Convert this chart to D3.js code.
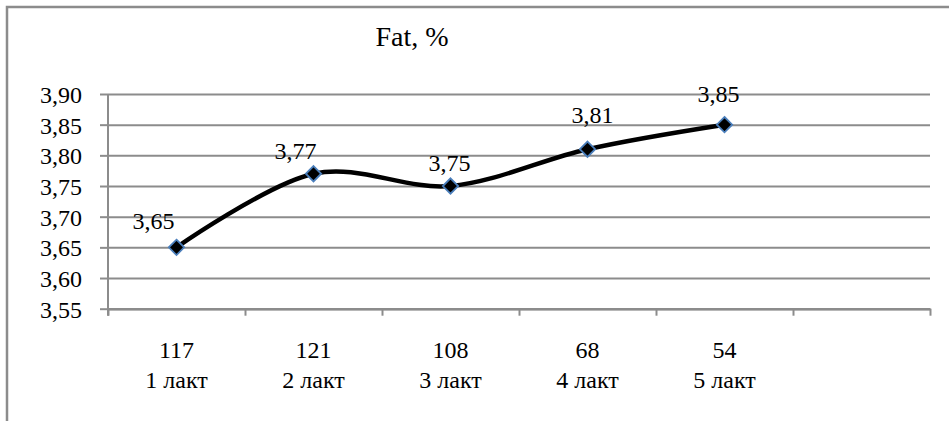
<!DOCTYPE html>
<html>
<head>
<meta charset="utf-8">
<script src="https://cdn.jsdelivr.net/npm/d3@7/dist/d3.min.js"></script>
<style>
  html, body { margin: 0; padding: 0; background: #fff; }
  svg { display: block; }
</style>
</head>
<body>
<svg id="chart" width="949" height="421"></svg>
<script>
// Lactation groups: herd size on the first line, lactation number on the second
const counts = ["117", "121", "108", "68", "54"];
const lactations = ["1 лакт", "2 лакт", "3 лакт", "4 лакт", "5 лакт"];
// Milk fat content, %
const fat = [3.65, 3.77, 3.75, 3.81, 3.85];
// Value axis ticks
const yTicks = [3.55, 3.60, 3.65, 3.70, 3.75, 3.80, 3.85, 3.90];
const title = "Fat, %";

(function draw() {
  const serif = "Liberation Serif, Times New Roman, serif";
  const svg = d3.select("#chart");
  const gridColor = "#8c8c8c";

  // Outer chart frame (runs off the right and bottom edges)
  svg.append("rect")
    .attr("x", 7).attr("y", 7)
    .attr("width", 1000).attr("height", 500)
    .attr("fill", "none")
    .attr("stroke", gridColor)
    .attr("stroke-width", 2.5);

  const plotL = 108, plotR = 930, plotT = 94, plotB = 308.7;
  const slots = counts.length + 1; // one empty category slot at the end

  const x = d3.scaleLinear().domain([0, slots]).range([plotL, plotR]);
  const y = d3.scaleLinear().domain([3.55, 3.90]).range([plotB, plotT]);
  const fmt = v => d3.format(".2f")(v).replace(".", ",");

  // Horizontal gridlines
  svg.append("g")
    .attr("transform", `translate(${plotL},0)`)
    .call(d3.axisLeft(y).tickValues(yTicks).tickSize(-(plotR - plotL)).tickFormat(""))
    .call(g => g.select(".domain").remove())
    .call(g => g.selectAll("line").attr("stroke", gridColor).attr("stroke-width", 2));

  // Value axis
  const yAxis = svg.append("g")
    .attr("transform", `translate(${plotL},0)`)
    .call(d3.axisLeft(y).tickValues(yTicks).tickSize(8).tickPadding(18).tickFormat(fmt))
    .attr("font-family", serif)
    .attr("font-size", 24);
  yAxis.select(".domain").remove();
  yAxis.selectAll("line").attr("stroke", gridColor).attr("stroke-width", 2);
  yAxis.selectAll("text").attr("dy", "0.35em");
  svg.append("line")
    .attr("x1", plotL).attr("x2", plotL)
    .attr("y1", plotT).attr("y2", plotB + 7)
    .attr("stroke", gridColor).attr("stroke-width", 2);

  // Category axis with ticks at the slot boundaries
  const xAxis = svg.append("g")
    .attr("transform", `translate(0,${plotB})`)
    .call(d3.axisBottom(x).tickValues(d3.range(slots + 1)).tickSize(7).tickSizeOuter(0).tickFormat(""));
  xAxis.select(".domain").attr("stroke", gridColor).attr("stroke-width", 2.5);
  xAxis.selectAll("line").attr("stroke", gridColor).attr("stroke-width", 2);

  const cx = i => x(i + 0.5);

  const catLabels = svg.append("g")
    .attr("font-family", serif)
    .attr("font-size", 24)
    .selectAll("text")
    .data(counts)
    .join("text")
    .attr("x", (d, i) => cx(i))
    .attr("y", 358)
    .attr("text-anchor", "middle");
  catLabels.append("tspan").attr("x", (d, i) => cx(i)).text(d => d);
  catLabels.append("tspan").attr("x", (d, i) => cx(i)).attr("dy", 30).text((d, i) => lactations[i]);

  // Smoothed series line
  const line = d3.line()
    .x((d, i) => cx(i))
    .y(d => y(d))
    .curve(d3.curveCardinal.tension(0));
  svg.append("path")
    .datum(fat)
    .attr("d", line)
    .attr("fill", "none")
    .attr("stroke", "#000")
    .attr("stroke-width", 4.5)
    .attr("stroke-linejoin", "round")
    .attr("stroke-linecap", "round");

  // Diamond markers
  const diamond = d3.symbol().type(d3.symbolDiamond2).size(150);
  svg.append("g").selectAll("path")
    .data(fat)
    .join("path")
    .attr("transform", (d, i) => `translate(${cx(i)},${y(d)})`)
    .attr("d", diamond)
    .attr("fill", "#000")
    .attr("stroke", "#4a7ebb")
    .attr("stroke-width", 1.8);

  // Value labels, each nudged clear of the curve
  const labelShift = [[-23, -18], [-18, -15], [-1, -15], [5, -26], [-6, -23]];
  svg.append("g")
    .attr("font-family", serif)
    .attr("font-size", 24)
    .selectAll("text")
    .data(fat)
    .join("text")
    .attr("x", (d, i) => cx(i) + labelShift[i][0])
    .attr("y", (d, i) => y(d) + labelShift[i][1])
    .attr("text-anchor", "middle")
    .text(fmt);

  // Title
  svg.append("text")
    .attr("x", 412)
    .attr("y", 46)
    .attr("text-anchor", "middle")
    .attr("font-family", serif)
    .attr("font-size", 28)
    .text(title);
})();
</script>
</body>
</html>
